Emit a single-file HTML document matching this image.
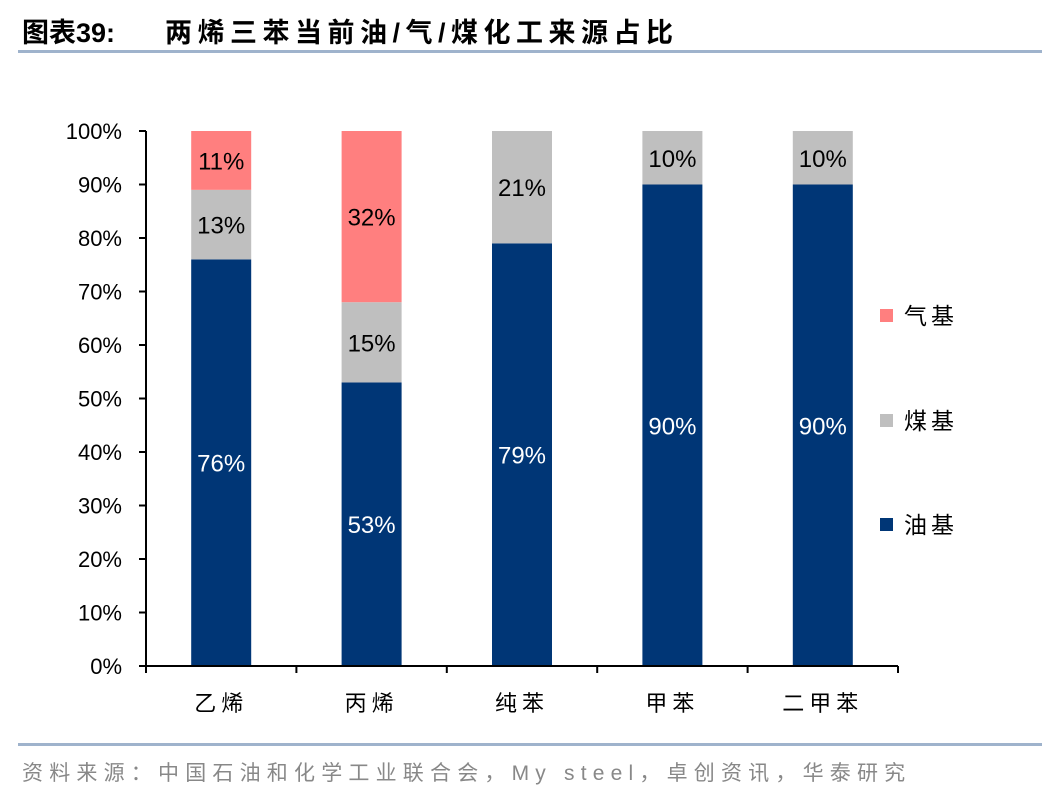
<!DOCTYPE html>
<html><head><meta charset="utf-8">
<style>
body{margin:0;background:#fff;width:1048px;height:796px;overflow:hidden;font-family:"Liberation Sans","Noto Sans CJK SC",sans-serif;}
svg text{font-family:"Liberation Sans","Noto Sans CJK SC",sans-serif;}
</style></head><body>
<svg width="1048" height="796">
<text x="22" y="42" font-size="27" font-weight="bold" fill="#000">图表39:<tspan x="165" letter-spacing="5.5">两烯三苯当前油/气/煤化工来源占比</tspan></text>
<rect x="18" y="50" width="1024" height="3" fill="#9fb3cc"/>
<g id="plot"></g>
<rect x="18" y="743" width="1024" height="3" fill="#9fb3cc"/>
<text x="22" y="780" font-size="21" fill="#888" letter-spacing="6.2">资料来源：中国石油和化学工业联合会，My steel，卓创资讯，华泰研究</text>
</svg>
<script>
const categories=["乙烯","丙烯","纯苯","甲苯","二甲苯"];
const oilValues=[76,53,79,90,90];
const coalValues=[13,15,21,10,10];
const gasValues=[11,32,0,0,0];
const yTicks=[0,10,20,30,40,50,60,70,80,90,100];
const ns="http://www.w3.org/2000/svg";
const g=document.getElementById('plot');
const x0=146,step=150.4,y0=666,y100=131,bw=60;
const y=v=>y0-(y0-y100)*v/100;
const xc=i=>x0+step*(i+0.5);
function mk(t,a,txt){const e=document.createElementNS(ns,t);for(const k in a)e.setAttribute(k,a[k]);if(txt!=null)e.textContent=txt;g.appendChild(e);return e;}
yTicks.forEach(v=>{
 const t=mk('text',{x:x0-24,y:y(v)+8,'font-size':22,'text-anchor':'end',fill:'#000'},v+'%');
 
 
 const l=mk('line',{x1:x0-7,x2:x0,y1:y(v),y2:y(v),stroke:'#000','stroke-width':2});
 
 
});
const series=[{vals:oilValues,color:'#003676',tc:'#fff',name:'oil'},{vals:coalValues,color:'#bfbfbf',tc:'#000',name:'coal'},{vals:gasValues,color:'#ff7f7f',tc:'#000',name:'gas'}];
categories.forEach((c,i)=>{
 let base=0;
 series.forEach(s=>{
  const v=s.vals[i];
  if(v>0){
   const r=mk('rect',{x:xc(i)-bw/2,y:y(base+v),width:bw,height:y(base)-y(base+v),fill:s.color});
   
   
   const t=mk('text',{x:xc(i),y:(y(base)+y(base+v))/2+9,'font-size':24,'text-anchor':'middle',fill:s.tc},v+'%');
   
   
  }
  base+=v;
 });
 const t=mk('text',{x:xc(i),y:711,'font-size':22,'text-anchor':'middle',fill:'#000','letter-spacing':'5'},c);
 
 
});
for(let i=0;i<=categories.length;i++){
 const l=mk('line',{x1:x0+step*i,x2:x0+step*i,y1:y0,y2:y0+7,stroke:'#000','stroke-width':2});
 
 
}
let ax=mk('line',{x1:x0,x2:x0,y1:y100,y2:y0,stroke:'#000','stroke-width':2});


ax=mk('line',{x1:x0-7,x2:x0+step*5,y1:y0,y2:y0,stroke:'#000','stroke-width':2});


const legend=[["气基","#ff7f7f",316],["煤基","#bfbfbf",421],["油基","#003676",525]];
legend.forEach(l=>{
 const r=mk('rect',{x:880,y:l[2]-7,width:13,height:13,fill:l[1]});
 
 
 const t=mk('text',{x:904,y:l[2]+8,'font-size':23,fill:'#000','letter-spacing':'4'},l[0]);
 
 
});
</script>
</body></html>
